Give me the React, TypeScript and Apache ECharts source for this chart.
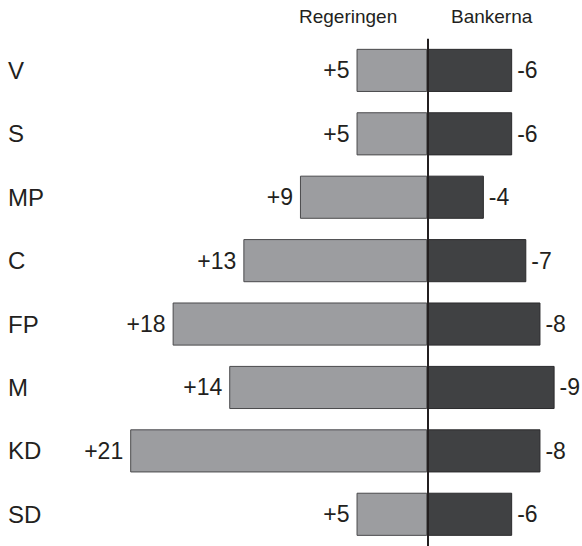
import React, { useEffect, useRef } from "react";
import * as echarts from "echarts";

const categories = ["V", "S", "MP", "C", "FP", "M", "KD", "SD"];
const regeringen = [5, 5, 9, 13, 18, 14, 21, 5];
const bankerna = [6, 6, 4, 7, 8, 9, 8, 6];
const headers = ["Regeringen", "Bankerna"];

const FONT = "'Liberation Sans', Arial, Helvetica, sans-serif";
const TEXT = "#231f20";

export default function App() {
  const ref = useRef<HTMLDivElement>(null);
  useEffect(() => {
    if (!ref.current) return;
    const chart = echarts.init(ref.current, null, { renderer: "svg" });
    const gridLeft = 130.2;
    chart.setOption({
      animation: false,
      backgroundColor: "#ffffff",
      grid: { left: gridLeft, right: 27.4, top: 38.7, height: 508.8 },
      xAxis: { type: "value", min: -21, max: 9, show: false },
      yAxis: {
        type: "category",
        inverse: true,
        data: categories,
        axisLine: { show: false },
        axisTick: { show: false },
        splitLine: { show: false },
        axisLabel: {
          align: "left",
          margin: gridLeft - 8,
          fontSize: 24,
          fontFamily: FONT,
          color: TEXT,
        },
      },
      graphic: [
        {
          type: "text",
          left: 299,
          top: 7,
          style: { text: headers[0], fontSize: 19, fontFamily: FONT, fill: TEXT },
        },
        {
          type: "text",
          left: 451,
          top: 7,
          style: { text: headers[1], fontSize: 19, fontFamily: FONT, fill: TEXT },
        },
      ],
      series: [
        {
          type: "bar",
          name: headers[0],
          data: regeringen.map((v) => -v),
          barCategoryGap: "32%",
          barGap: "-100%",
          itemStyle: { color: "#9c9da0", borderColor: "#4a4a4c", borderWidth: 1 },
          label: {
            show: true,
            position: "left",
            distance: 7,
            fontSize: 23,
            fontFamily: FONT,
            color: TEXT,
            formatter: (p: any) => "+" + Math.abs(p.value),
          },
        },
        {
          type: "bar",
          name: headers[1],
          data: bankerna,
          barCategoryGap: "32%",
          barGap: "-100%",
          itemStyle: { color: "#404143", borderColor: "#2a2a2c", borderWidth: 1 },
          label: {
            show: true,
            position: "right",
            distance: 5,
            fontSize: 23,
            fontFamily: FONT,
            color: TEXT,
            formatter: (p: any) => "-" + p.value,
          },
          markLine: {
            silent: true,
            symbol: "none",
            label: { show: false },
            lineStyle: { color: "#231f20", width: 2, type: "solid" },
            data: [{ xAxis: 0 }],
          },
        },
      ],
    });
    return () => chart.dispose();
  }, []);
  return (
    <div
      ref={ref}
      style={{ position: "fixed", left: 0, top: 0, width: 582, height: 546 }}
    />
  );
}
